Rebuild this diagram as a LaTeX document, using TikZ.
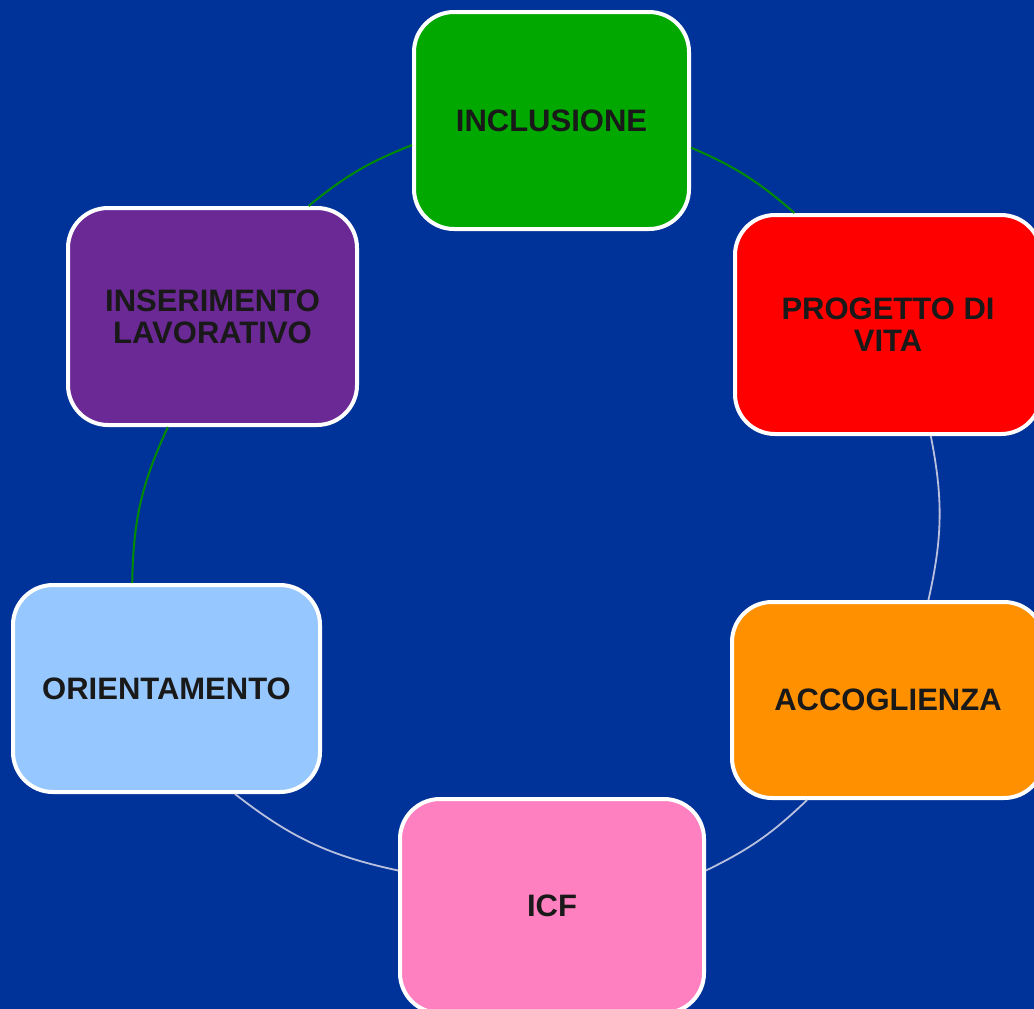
\documentclass[tikz,border=0pt]{standalone}
\usepackage{fontspec}
\setmainfont{Liberation Sans}
\usepackage{tikz}
\usetikzlibrary{positioning}
\definecolor{cBack}{RGB}{0,51,153}
\definecolor{cIncl}{RGB}{0,168,0}
\definecolor{cProg}{RGB}{255,0,0}
\definecolor{cAcco}{RGB}{255,145,0}
\definecolor{cIcf}{RGB}{255,128,192}
\definecolor{cOrie}{RGB}{150,200,255}
\definecolor{cInse}{RGB}{107,41,150}
\definecolor{cLinkG}{RGB}{0,140,0}
\definecolor{cLinkW}{RGB}{185,192,222}
\tikzset{
	phase/.style={rectangle, rounded corners=20pt, draw=white, line width=2pt, align=center, text=black!90, font=\fontsize{15.5}{16}\selectfont\bfseries},
	greenlink/.style={cLinkG, line width=1pt},
	greylink/.style={cLinkW, line width=0.9pt},
}
\begin{document}
\begin{tikzpicture}[x=0.5pt, y=-0.5pt]
	\useasboundingbox (0,0) rectangle (1034,1008);
	\clip (-4,-4) rectangle (1038,1012);
	% background
	\fill[cBack] (-4,-4) rectangle (1038,1012);
	% phases
	\node[phase, fill=cIncl, minimum width=137.5pt, minimum height=108.5pt] (incl) at (551.5,120.5) {INCLUSIONE};
	\node[phase, fill=cProg, minimum width=153pt, minimum height=109.5pt] (prog) at (888,324.5) {PROGETTO DI\\VITA};
	\node[phase, fill=cAcco, minimum width=156pt, minimum height=98pt] (acco) at (888,700) {ACCOGLIENZA};
	\node[phase, fill=cIcf, minimum width=152pt, minimum height=107pt] (icf) at (552,906) {ICF};
	\node[phase, fill=cOrie, minimum width=153.5pt, minimum height=103.5pt] (orie) at (166.5,688.5) {ORIENTAMENTO};
	\node[phase, fill=cInse, minimum width=144.5pt, minimum height=108.5pt] (inse) at (212.5,316.5) {INSERIMENTO\\LAVORATIVO};
	% ring
	\draw[greenlink] (incl.349) to[bend left=9] (prog.130);
	\draw[greylink] (prog.291) to[bend left=12] (acco.68);
	\draw[greylink] (acco.231) to[bend left=9] (icf.13);
	\draw[greylink] (icf.167) to[bend left=13] (orie.303.5);
	\draw[greenlink] (orie.108) to[bend left=12] (inse.248);
	\draw[greenlink] (inse.49.5) to[bend left=9] (incl.190);
\end{tikzpicture}
\end{document}
